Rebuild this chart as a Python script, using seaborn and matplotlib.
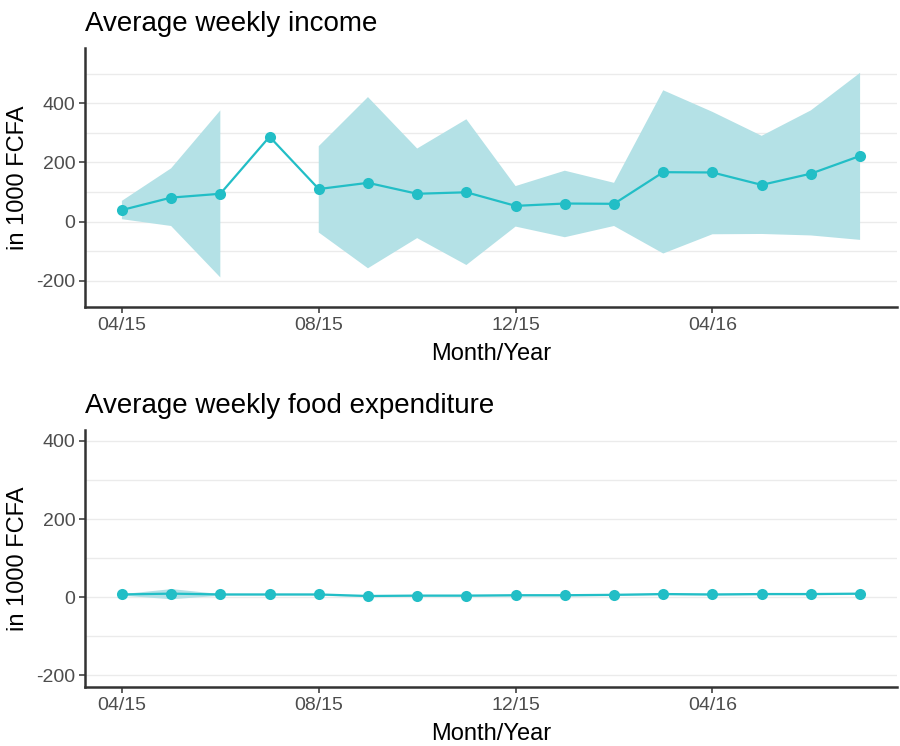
import numpy as np
import pandas as pd
import matplotlib
matplotlib.use("Agg")
import matplotlib.pyplot as plt
import seaborn as sns

# Monthly series, April 2015 to July 2016 (values in 1000 FCFA)
months = ["04/15", "05/15", "06/15", "07/15", "08/15", "09/15", "10/15", "11/15",
          "12/15", "01/16", "02/16", "03/16", "04/16", "05/16", "06/16", "07/16"]
income_mean = [39, 81, 94, 287, 110, 131, 94, 99, 53, 61, 60, 167, 166, 124, 162, 222]
income_low = [8, -15, -189, np.nan, -37, -158, -56, -147, -17, -53, -15, -108, -43, -42, -47, -62]
income_high = [70, 180, 376, np.nan, 255, 421, 247, 346, 120, 172, 131, 444, 371, 290, 376, 503]
food_mean = [7, 9, 7, 7, 7, 3, 4, 4, 5, 5, 6, 8, 7, 8, 8, 9]
food_low = [5, -4, 5, 5, 5, 1, 2, 2, 3, 3, 4, 6, 5, 6, 6, 7]
food_high = [9, 22, 9, 9, 9, 5, 6, 6, 7, 7, 8, 10, 9, 10, 10, 11]
tick_labels = ["04/15", "08/15", "12/15", "04/16"]

sns.set_theme(style="white")
plt.rcParams["font.family"] = ["Liberation Sans", "DejaVu Sans"]

teal = "#22BEC6"
ribbon = "#B4E1E6"
grid = "#EBEBEB"
dark = "#333333"

fig = plt.figure(figsize=(9.0, 7.46), dpi=100)
W, H = 900, 746


def panel(rect_px, mean, low, high, title, ylim, majors, minors):
    l, t, r, b = rect_px
    ax = fig.add_axes([l / W, 1 - b / H, (r - l) / W, (b - t) / H])
    df = pd.DataFrame({"idx": np.arange(len(months)), "value": mean})
    for y in majors + minors:
        ax.axhline(y, color=grid, lw=1.0, zorder=0)
    ax.fill_between(df["idx"], np.array(low, dtype=float), np.array(high, dtype=float),
                    color=ribbon, lw=0, zorder=1)
    sns.lineplot(data=df, x="idx", y="value", ax=ax, color=teal, lw=1.6,
                 marker="o", markersize=8, markeredgewidth=0, zorder=3)
    ax.set_xlim(-0.75, 15.75)
    ax.set_ylim(*ylim)
    ax.set_xticks([months.index(m) for m in tick_labels])
    ax.set_xticklabels(tick_labels)
    ax.set_yticks(majors)
    ax.set_yticklabels([str(v) for v in majors])
    ax.tick_params(axis="both", labelsize=14, colors="#4D4D4D", length=4, width=1.1,
                   pad=3, left=True, bottom=True)
    ax.tick_params(axis="both", color=dark)
    for s in ["top", "right"]:
        ax.spines[s].set_visible(False)
    for s in ["left", "bottom"]:
        ax.spines[s].set_color(dark)
        ax.spines[s].set_linewidth(1.8)
    ax.set_xlabel("Month/Year", fontsize=17, color="black", labelpad=7)
    ax.set_ylabel("in 1000 FCFA", fontsize=17, color="black", labelpad=5)
    ax.set_title(title, fontsize=20, loc="left", pad=12, color="black")
    return ax


panel((85, 48, 897, 307), income_mean, income_low, income_high,
      "Average weekly income", (-289, 587), [-200, 0, 200, 400], [-100, 100, 300, 500])
panel((85, 430, 897, 687), food_mean, food_low, food_high,
      "Average weekly food expenditure", (-230, 428), [-200, 0, 200, 400], [-100, 100, 300])

fig.savefig("out.png", dpi=100, facecolor="white")
